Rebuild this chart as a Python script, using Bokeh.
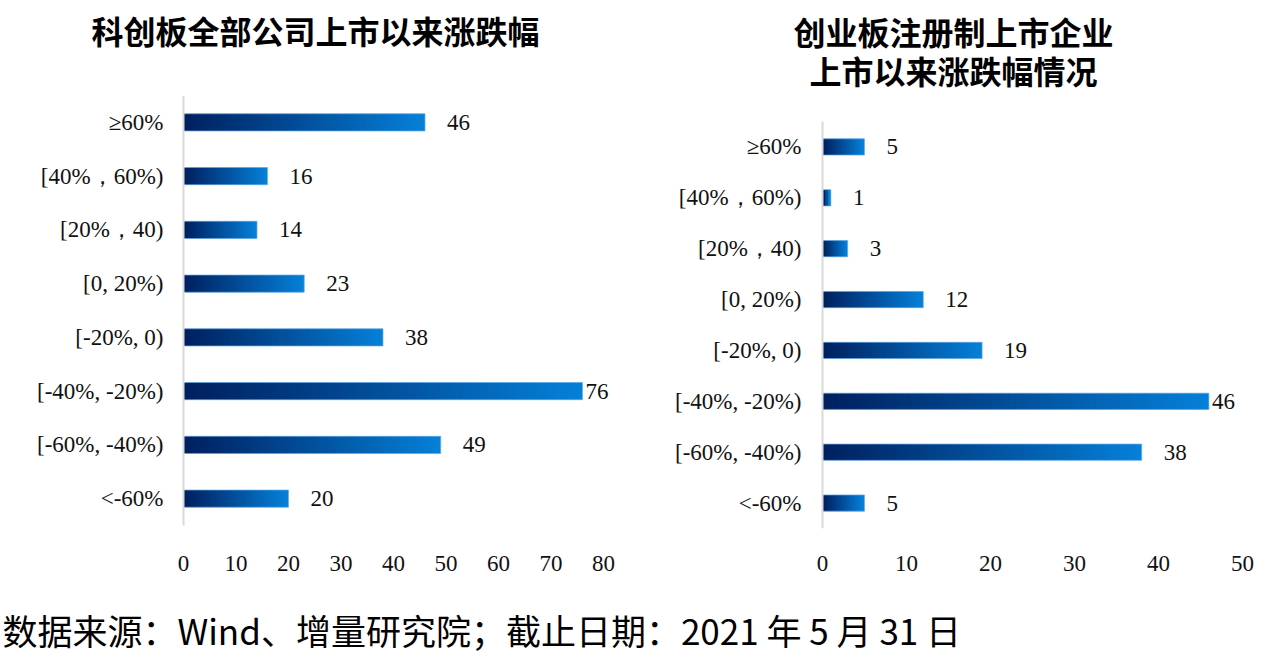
from bokeh.plotting import figure
from bokeh.layouts import column, row
from bokeh.models import ColumnDataSource, FixedTicker, Range1d, LabelSet
from bokeh.core.properties import value
from bokeh.embed import file_html
from bokeh.resources import INLINE

# ---------------- data ----------------
categories = ["≥60%", "[40%，60%)", "[20%，40)", "[0, 20%)", "[-20%, 0)",
              "[-40%, -20%)", "[-60%, -40%)", "<-60%"]
star_counts = [46, 16, 14, 23, 38, 76, 49, 20]
chinext_counts = [5, 1, 3, 12, 19, 46, 38, 5]
star_ticks = [0, 10, 20, 30, 40, 50, 60, 70, 80]
chinext_ticks = [0, 10, 20, 30, 40, 50]
star_title = ["科创板全部公司上市以来涨跌幅"]
chinext_title = ["创业板注册制上市企业", "上市以来涨跌幅情况"]
footer_text = "数据来源：Wind、增量研究院；截止日期：2021 年 5 月 31 日"

# ---------------- style ----------------
SERIF = "Liberation Serif"
CJK = "Noto Sans CJK SC"
C0 = (0x00, 0x20, 0x5f)
C1 = (0x05, 0x80, 0xd8)
TXT = "#111111"
LABEL_SIZE = "23px"

TITLE_H = 95
CHART_H = 503
FOOT_H = 58
FRAME_TOP = 0        # frame top inside chart figure
FRAME_BOTTOM_BORDER = 70
PLOT_W = 420         # pixels between tick 0 and last tick
PAD_L, PAD_R = 3, 10


def mix(t):
    r, g, b = (round(a + (b_ - a) * t) for a, b_ in zip(C0, C1))
    return "#%02x%02x%02x" % (r, g, b)


def make_chart(counts, ticks, fig_w, axis_px, band_top, band_bottom, ystand):
    """axis_px: x of tick 0 inside figure; band_top/bottom: pixel extent of
    the category bands measured from the frame top."""
    xmax = ticks[-1]
    ppu = PLOT_W / xmax
    frame_h = CHART_H - FRAME_TOP - FRAME_BOTTOM_BORDER
    n = len(categories)
    upx = (band_bottom - band_top) / n          # pixels per category unit
    y_top = n - 0.5 + band_top / upx
    y_bot = -0.5 - (frame_h - band_bottom) / upx
    left_border = axis_px - PAD_L
    right_border = fig_w - (axis_px + PLOT_W + PAD_R)
    p = figure(width=fig_w, height=CHART_H,
               x_range=Range1d(-PAD_L / ppu, xmax + PAD_R / ppu),
               y_range=Range1d(y_bot, y_top),
               output_backend="svg", toolbar_location=None,
               min_border_left=left_border, min_border_right=right_border,
               min_border_top=FRAME_TOP, min_border_bottom=FRAME_BOTTOM_BORDER,
               outline_line_color=None)
    pos = [n - 1 - i for i in range(n)]
    ys, ls, rs, cs = [], [], [], []
    for yv, v in zip(pos, counts):
        N = max(3, int(v * ppu / 2.5))
        for i in range(N):
            ys.append(yv)
            ls.append(v * i / N)
            rs.append(min(v, v * (i + 1.5) / N))
            cs.append(mix(i / (N - 1)))
    src = ColumnDataSource(dict(y=ys, l=ls, r=rs, c=cs))
    p.hbar(y="y", left="l", right="r", height=0.32, fill_color="c",
           line_color=None, source=src)
    p.hbar(y=pos, left=0, right=counts, height=0.32, fill_color=None,
           line_color="#6aaee8", line_width=1, line_alpha=0.7)
    # category axis line
    p.segment(x0=[0], x1=[0], y0=[-0.5], y1=[n - 0.5], line_color="#d9d9d9",
              line_width=2)

    offs = [22 if v <= 0.85 * xmax else 3 for v in counts]
    lsrc = ColumnDataSource(dict(x=counts, y=pos,
                                 t=[str(v) for v in counts], o=offs))
    p.add_layout(LabelSet(x="x", y="y", text="t", x_offset="o", source=lsrc,
                          text_font=value(SERIF), text_font_size=LABEL_SIZE,
                          text_color=TXT, text_align="left",
                          text_baseline="middle"))

    p.grid.visible = False
    xa = p.xaxis[0]
    xa.ticker = FixedTicker(ticks=ticks)
    xa.axis_line_color = None
    xa.major_tick_line_color = None
    xa.minor_tick_line_color = None
    xa.major_tick_out = 0
    xa.major_label_standoff = 27
    xa.major_label_text_font = SERIF
    xa.major_label_text_font_size = LABEL_SIZE
    xa.major_label_text_color = TXT

    ya = p.yaxis[0]
    ya.ticker = FixedTicker(ticks=pos)
    ya.major_label_overrides = {yv: c for yv, c in zip(pos, categories)}
    ya.axis_line_color = None
    ya.major_tick_line_color = None
    ya.minor_tick_line_color = None
    ya.major_tick_out = 0
    ya.major_label_standoff = ystand
    ya.major_label_text_font = SERIF
    ya.major_label_text_font_size = LABEL_SIZE
    ya.major_label_text_color = TXT
    return p


def make_text_fig(lines, width, height, cx, ys, size, style, align="center"):
    t = figure(width=width, height=height, x_range=Range1d(0, width),
               y_range=Range1d(height, 0), output_backend="svg",
               toolbar_location=None, min_border=0, outline_line_color=None,
               x_axis_type=None, y_axis_type=None)
    t.grid.visible = False
    t.text(x=[cx] * len(lines), y=ys, text=lines, text_font=value(CJK),
           text_font_size=size, text_font_style=style, text_color="#000000",
           text_align=align, text_baseline="middle")
    return t


LEFT_W, RIGHT_W = 620, 645

t1 = make_text_fig(star_title, LEFT_W, TITLE_H, 315, [29], "32px", "bold")
t2 = make_text_fig(chinext_title, RIGHT_W, TITLE_H, 333, [30, 69], "32px", "bold")

# frame top is at page y 95; left bands 95..525, right bands 121..528
p1 = make_chart(star_counts, star_ticks, LEFT_W, 183, 0, 430, 17)
p2 = make_chart(chinext_counts, chinext_ticks, RIGHT_W, 202, 26, 433, 18)

foot = make_text_fig([footer_text], LEFT_W + RIGHT_W, FOOT_H, 2, [31], "35px",
                     "normal", "left")

layout = column(row(t1, t2), row(p1, p2), foot)

open("out.html", "w").write(file_html(layout, INLINE))
